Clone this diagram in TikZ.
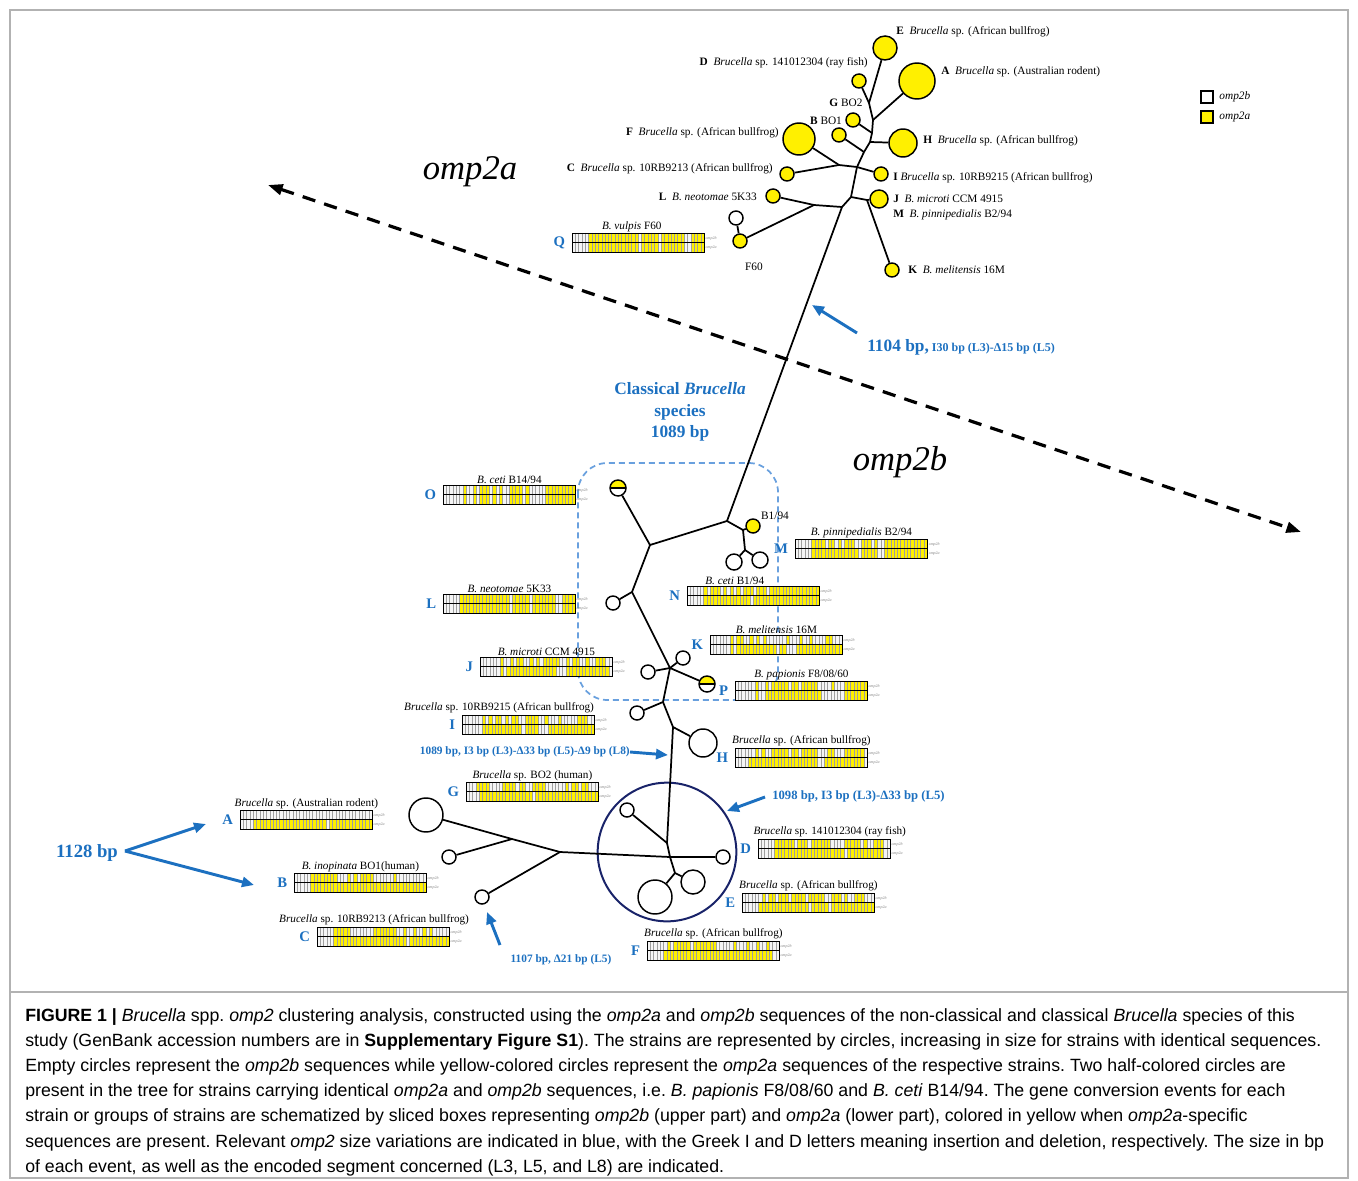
\documentclass[tikz,border=0pt]{standalone}
\usepackage{fontspec}
\setmainfont{Liberation Serif}
\newfontfamily\capfont{Liberation Sans}
\usetikzlibrary{positioning, arrows.meta}

\definecolor{labblue}{RGB}{28,112,192}
\definecolor{omptwoa}{RGB}{255,240,0}
\definecolor{navyring}{RGB}{25,35,105}
\definecolor{boxblue}{RGB}{105,160,222}

% sliced box: name, top left, letter, label, label shift, yellow slices of omp2b, yellow slices of omp2a
\newcommand{\slicedbox}[7]{%
  \begin{scope}[shift={(#2)}]
    \fill[gray!8] (0,0) rectangle (132,19);
    \foreach \a/\b in {#6} \fill[omptwoa] ({(\a-1)*3.3},0) rectangle ({\b*3.3},9.5);
    \foreach \a/\b in {#7} \fill[omptwoa] ({(\a-1)*3.3},9.5) rectangle ({\b*3.3},19);
    \foreach \i in {1,...,39} \draw[gray!75, line width=0.3pt] ({\i*3.3},0) -- ({\i*3.3},19);
    \draw[line width=0.4pt] (0,9.5) -- (132,9.5);
    \node[draw, line width=0.6pt, anchor=north west, inner sep=0pt,
      minimum width=99pt, minimum height=14.25pt] (#1) at (0,0) {};
  \end{scope}
  \node[boxlab, above=0pt of #1.north, xshift=#5] (#1lab) {#4};
  \node[tagletter, left=5pt of #1.west] (#1let) {#3};
  \node[omplab, anchor=west] (#1b) at ([yshift=3.5pt]#1.east) {omp2b};
  \node[omplab, anchor=west] (#1a) at ([yshift=-3.5pt]#1.east) {omp2a};
}

\begin{document}
\begin{tikzpicture}[x=0.75pt, y=-0.75pt, >={Triangle[length=9pt,width=7.5pt]},
  tree/.style={line width=1.3pt},
  cir/.style={circle, draw, line width=1.1pt, inner sep=0pt, minimum size=#1*1.5pt, fill=white},
  ycir/.style={cir=#1, fill=omptwoa},
  halfcir/.style={cir=#1, path picture={
      \fill[omptwoa] (path picture bounding box.west) rectangle (path picture bounding box.north east);
      \draw[line width=1.1pt] (path picture bounding box.west) -- (path picture bounding box.east);}},
  treelab/.style={font=\fontsize{8.5}{9}\selectfont, inner sep=0pt},
  boxlab/.style={font=\fontsize{8.4}{9}\selectfont, inner sep=1pt},
  tagletter/.style={text=labblue, font=\bfseries\fontsize{11}{11}\selectfont, inner sep=0pt},
  omplab/.style={font=\itshape\fontsize{3}{3}\selectfont, text=gray, inner sep=0.5pt},
  bluetxt/.style={text=labblue, font=\bfseries\fontsize{9}{10}\selectfont, inner sep=0pt},
  barrow/.style={->, draw=labblue, line width=2.2pt},
]
\useasboundingbox (0,0) rectangle (1358,1180);
\draw[gray!60, line width=0.8pt] (10,10) rectangle (1348,992);
\draw[gray!60, line width=0.8pt] (10,992) rectangle (1348,1178);

% separation of the two genes
\coordinate (sepL) at (268,185);
\coordinate (sepR) at (1301,532);
\draw[<->, line width=2.4pt, dash pattern=on 10pt off 7pt,
  >={Triangle[length=11pt,width=8pt]}] (sepL) -- (sepR);
\node[font=\itshape\fontsize{26}{26}\selectfont] (bigA) at (470,172) {omp2a};
\node[font=\itshape\fontsize{26}{26}\selectfont] (bigB) at (900,462) {omp2b};

% legend
\node[draw, line width=1.2pt, minimum size=9pt, inner sep=0pt] (legb) at (1207,97) {};
\node[draw, line width=1.2pt, minimum size=9pt, inner sep=0pt, fill=omptwoa] (lega) at (1207,117) {};
\node[right=4pt of legb, font=\itshape\fontsize{8.5}{9}\selectfont, inner sep=0pt] (legbtxt) {omp2b};
\node[right=4pt of lega, font=\itshape\fontsize{8.5}{9}\selectfont, inner sep=0pt] (legatxt) {omp2a};

% classical species box and ring
\draw[boxblue, line width=1.3pt, dash pattern=on 4.5pt off 3pt, rounded corners=22pt]
  (578,463) rectangle (778,700);
\node[circle, draw=navyring, line width=1.5pt, minimum size=104pt, inner sep=0pt] (ring) at (667,852) {};

% omp2a tree
\coordinate (t1) at (727,521);
\coordinate (t2) at (842,207);
\coordinate (t3) at (851,197);
\coordinate (t4) at (857,167);
\coordinate (t5) at (864,152);
\coordinate (t6) at (870,142);
\coordinate (t7) at (872,133);
\coordinate (t8) at (873,120);
\coordinate (t9) at (869,103);
\coordinate (lq) at (814,205);
\coordinate (jk) at (867,200);
\coordinate (cf) at (839,165);

\node[ycir=12] (aE) at (885,48) {};
\node[ycir=7] (aD) at (859,81) {};
\node[ycir=18] (aA) at (917,81) {};
\node[ycir=7] (aG) at (853,120) {};
\node[ycir=7] (aB) at (839,135) {};
\node[ycir=14] (aH) at (903,143) {};
\node[ycir=16] (aF) at (799,139) {};
\node[ycir=7] (aC) at (787,174) {};
\node[ycir=7] (aI) at (881,174) {};
\node[ycir=9] (aJ) at (879,199) {};
\node[ycir=7] (aK) at (892,270) {};
\node[ycir=7] (aL) at (773,196) {};
\node[ycir=7] (aQ) at (740,241) {};
\node[cir=7] (bQ) at (736,218) {};

\draw[tree] (t1) -- (t2) -- (t3) -- (t4) -- (t5) -- (t6) -- (t7) -- (t8) -- (t9);
\draw[tree] (t9) -- (aE);
\draw[tree] (t9) -- (aD);
\draw[tree] (t8) -- (aA);
\draw[tree] (t7) -- (aG);
\draw[tree] (t5) -- (aB);
\draw[tree] (t6) -- (aH);
\draw[tree] (t4) -- (cf) -- (aF);
\draw[tree] (cf) -- (aC);
\draw[tree] (t4) -- (aI);
\draw[tree] (t3) -- (jk) -- (aJ);
\draw[tree] (jk) -- (aK);
\draw[tree] (t2) -- (lq) -- (aL);
\draw[tree] (lq) -- (aQ) -- (bQ);

\node[treelab, anchor=west] (aElab) at (896,32) {\textbf{E}\enspace\textit{Brucella} sp. (African bullfrog)};
\node[treelab, anchor=east] (aDlab) at (868,63) {\textbf{D}\enspace\textit{Brucella} sp. 141012304 (ray fish)};
\node[treelab, anchor=west] (aAlab) at (941,72) {\textbf{A}\enspace\textit{Brucella} sp. (Australian rodent)};
\node[treelab] (aGlab) at (846,103) {\textbf{G} BO2};
\node[treelab] (aBlab) at (826,121) {\textbf{B} BO1};
\node[treelab, anchor=east] (aFlab) at (779,133) {\textbf{F}\enspace\textit{Brucella} sp. (African bullfrog)};
\node[treelab, anchor=west] (aHlab) at (923,141) {\textbf{H}\enspace\textit{Brucella} sp. (African bullfrog)};
\node[treelab, anchor=east] (aClab) at (773,169) {\textbf{C}\enspace\textit{Brucella} sp. 10RB9213 (African bullfrog)};
\node[treelab, anchor=west] (aIlab) at (893,178) {\textbf{I} \textit{Brucella} sp. 10RB9215 (African bullfrog)};
\node[treelab, anchor=west] (aJlab) at (893,199) {\textbf{J}\enspace\textit{B. microti} CCM 4915};
\node[treelab, anchor=west] (aMlab) at (893,215) {\textbf{M}\enspace\textit{B. pinnipedialis} B2/94};
\node[treelab, anchor=east] (aLlab) at (757,197) {\textbf{L}\enspace\textit{B. neotomae} 5K33};
\node[treelab, anchor=west] (aKlab) at (908,270) {\textbf{K}\enspace\textit{B. melitensis} 16M};
\node[treelab] (f60) at (754,267) {F60};

% omp2b tree
\coordinate (lo1) at (650,545);
\coordinate (lo2) at (632,592);
\coordinate (lo3) at (670,668);
\coordinate (lo4) at (663,702);
\coordinate (lo5) at (673,727);
\coordinate (m1) at (743,530);
\coordinate (m2) at (745,550);
\coordinate (c0) at (667,843);
\coordinate (c1) at (670,857);
\coordinate (c2) at (675,873);
\coordinate (j1) at (512,839);
\coordinate (j2) at (560,852);

\node[halfcir=8] (bO) at (618,488) {};
\node[ycir=7] (bM) at (753,526) {};
\node[cir=8] (bN1) at (734,562) {};
\node[cir=8] (bN2) at (760,560) {};
\node[cir=7] (bL) at (613,603) {};
\node[cir=7] (bJ) at (648,672) {};
\node[cir=7] (bK) at (683,658) {};
\node[halfcir=8] (bP) at (707,684) {};
\node[cir=7] (bI) at (637,713) {};
\node[cir=14] (bH) at (703,743) {};
\node[cir=7] (bG) at (627,810) {};
\node[cir=7] (bD) at (723,857) {};
\node[cir=12] (bE) at (693,882) {};
\node[cir=17] (bF) at (655,897) {};
\node[cir=17] (bA) at (426,815) {};
\node[cir=7] (bB) at (449,857) {};
\node[cir=7] (bC) at (482,897) {};

\draw[tree] (bO) -- (lo1) -- (t1) -- (m1) -- (bM);
\draw[tree] (m1) -- (m2) -- (bN1);
\draw[tree] (m2) -- (bN2);
\draw[tree] (lo1) -- (lo2) -- (bL);
\draw[tree] (lo2) -- (lo3) -- (bJ);
\draw[tree] (lo3) -- (bK);
\draw[tree] (lo3) -- (bP);
\draw[tree] (lo3) -- (lo4) -- (bI);
\draw[tree] (lo4) -- (lo5) -- (bH);
\draw[tree] (lo5) -- (c0) -- (bG);
\draw[tree] (c0) -- (c1) -- (bD);
\draw[tree] (c1) -- (c2) -- (bE);
\draw[tree] (c2) -- (bF);
\draw[tree] (c1) -- (j2) -- (j1) -- (bA);
\draw[tree] (j1) -- (bB);
\draw[tree] (j2) -- (bC);
\node[treelab] (b194) at (775,516) {B1/94};

% sliced boxes
\slicedbox{Q}{572,233}{Q}{\textit{B. vulpis} F60}{-5pt}{6/20,22/26,28/34,37/40}{6/20,22/26,28/34,37/40}
\slicedbox{O}{443,485}{O}{\textit{B. ceti} B14/94}{0pt}{7/7,10/10,12/14,16/16,18/18,21/24,26/26,32/40}{7/7,10/10,12/14,16/16,18/18,21/24,26/26,32/40}
\slicedbox{M}{795,539}{M}{\textit{B. pinnipedialis} B2/94}{0pt}{6/9,11/12,14/14,16/18,21/23,25/25,28/40}{6/19,21/25,28/40}
\slicedbox{N}{687,586}{N}{\textit{B. ceti} B1/94}{-14pt}{6/6,8/10,12/12,14/14,16/16,18/20,22/24,26/40}{6/19,21/40}
\slicedbox{L}{443,594}{L}{\textit{B. neotomae} 5K33}{0pt}{6/20,22/26,28/34,37/40}{6/20,22/26,28/34,37/40}
\slicedbox{K}{710,635}{K}{\textit{B. melitensis} 16M}{0pt}{7/7,9/10,13/13,15/15,17/17,24/24,28/28,31/31,36/37}{7/7,9/20,22/23,27/40}
\slicedbox{J}{480,657}{J}{\textit{B. microti} CCM 4915}{0pt}{7/7,10/10,12/13,16/16,18/18,20/24,27/27,29/30,33/33,36/38}{7/7,9/23,27/39}
\slicedbox{P}{735,681}{P}{\textit{B. papionis} F8/08/60}{0pt}{7/7,10/10,12/16,18/19,21/25,30/30,34/40}{7/7,10/26,34/40}
\slicedbox{I}{462,715}{I}{\textit{Brucella} sp. 10RB9215 (African bullfrog)}{-22pt}{7/7,9/9,11/12,14/14,16/17,20/23,26/26,30/30,36/38}{7/18,20/23,27/40}
\slicedbox{H}{735,748}{H}{\textit{Brucella} sp. (African bullfrog)}{0pt}{7/7,9/9,12/16,18/19,21/25,29/30,34/39}{5/20,21/25,28/39}
\slicedbox{G}{466,782}{G}{\textit{Brucella} sp. BO2 (human)}{0pt}{4/7,12/15,17/18,21/24,31/31,33/34,36/37}{5/20,22/40}
\slicedbox{A}{240,810}{A}{\textit{Brucella} sp. (Australian rodent)}{0pt}{1/0}{5/26,28/40}
\slicedbox{D}{758,839}{D}{\textit{Brucella} sp. 141012304 (ray fish)}{4pt}{6/11,13/15,17/22,27/31,33/33,36/38}{6/26,28/38}
\slicedbox{B}{294,873}{B}{\textit{B. inopinata} BO1(human)}{0pt}{6/13,17/17,19/19,21/24,31/31}{6/40}
\slicedbox{E}{742,893}{E}{\textit{Brucella} sp. (African bullfrog)}{0pt}{7/7,9/10,12/14,16/19,21/25,28/30,32/32,35/37}{6/20,22/26,28/40}
\slicedbox{C}{317,927}{C}{\textit{Brucella} sp. 10RB9213 (African bullfrog)}{-7pt}{6/10,18/24,27/27,30/30,33/33,35/35}{6/27,29/40}
\slicedbox{F}{647,941}{F}{\textit{Brucella} sp. (African bullfrog)}{0pt}{7/7,9/11,12/13,15/21,27/27,31/31,34/34,37/37}{6/26,27/38}

% size variations
\node[bluetxt, font=\bfseries\fontsize{13}{16}\selectfont, align=center] (classic) at (680,412)
  {Classical \textit{Brucella}\\species\\1089 bp};
\node[bluetxt, anchor=west] (l1104) at (867,347) {{\fontsize{13}{13}\selectfont 1104 bp,} I30 bp (L3)-Δ15 bp (L5)};
\node[bluetxt, anchor=east, font=\bfseries\fontsize{8.5}{9}\selectfont] (l1089) at (630,752) {1089 bp, I3 bp (L3)-Δ33 bp (L5)-Δ9 bp (L8)};
\node[bluetxt, anchor=west, font=\bfseries\fontsize{9.5}{10}\selectfont] (l1098) at (772,796) {1098 bp, I3 bp (L3)-Δ33 bp (L5)};
\node[bluetxt, font=\bfseries\fontsize{8.5}{9}\selectfont] (l1107) at (561,960) {1107 bp, Δ21 bp (L5)};
\node[bluetxt, font=\bfseries\fontsize{14}{14}\selectfont] (l1128) at (87,853) {1128 bp};

\coordinate (a1104s) at (857,333);
\coordinate (a1104e) at (812,305);
\coordinate (a1089e) at (668,755);
\coordinate (a1098s) at (765,797);
\coordinate (a1098e) at (727,811);
\coordinate (a1107s) at (500,945);
\coordinate (a1107e) at (487,912);
\coordinate (a1128s) at (125,851);
\coordinate (a1128a) at (206,824);
\coordinate (a1128b) at (254,885);
\draw[barrow] (a1104s) -- (a1104e);
\draw[barrow] (l1089.east) -- (a1089e);
\draw[barrow] (a1098s) -- (a1098e);
\draw[barrow] (a1107s) -- (a1107e);
\draw[barrow] (a1128s) -- (a1128a);
\draw[barrow] (a1128s) -- (a1128b);

% caption
\node[anchor=north west, align=left, inner sep=0pt, font=\capfont\fontsize{13.3}{18.9}\selectfont\frenchspacing] (caption) at (25,1008) {%
\textbf{FIGURE 1 |} \textit{Brucella} spp. \textit{omp2} clustering analysis, constructed using the \textit{omp2a} and \textit{omp2b} sequences of the non-classical and classical \textit{Brucella} species of this\\
study (GenBank accession numbers are in \textbf{Supplementary Figure S1}). The strains are represented by circles, increasing in size for strains with identical sequences.\\
Empty circles represent the \textit{omp2b} sequences while yellow-colored circles represent the \textit{omp2a} sequences of the respective strains. Two half-colored circles are\\
present in the tree for strains carrying identical \textit{omp2a} and \textit{omp2b} sequences, i.e. \textit{B. papionis} F8/08/60 and \textit{B. ceti} B14/94. The gene conversion events for each\\
strain or groups of strains are schematized by sliced boxes representing \textit{omp2b} (upper part) and \textit{omp2a} (lower part), colored in yellow when \textit{omp2a}-specific\\
sequences are present. Relevant \textit{omp2} size variations are indicated in blue, with the Greek I and D letters meaning insertion and deletion, respectively. The size in bp\\
of each event, as well as the encoded segment concerned (L3, L5, and L8) are indicated.};
\end{tikzpicture}
\end{document}
